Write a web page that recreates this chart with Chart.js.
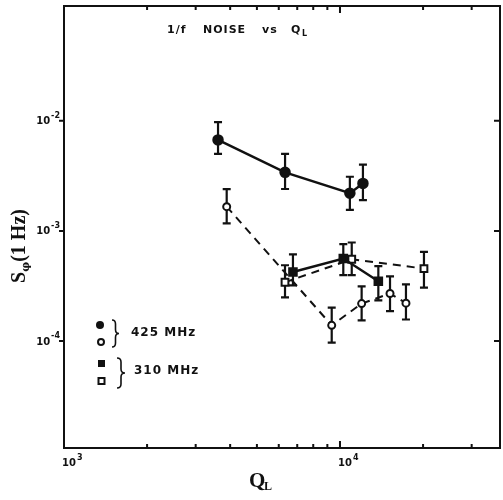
<!DOCTYPE html>
<html>
<head>
<meta charset="utf-8">
<script src="https://cdn.jsdelivr.net/npm/chart.js@4.4.1/dist/chart.umd.min.js"></script>
<style>
  html, body { margin: 0; padding: 0; background: #fff; }
  #wrap { width: 503px; height: 500px; }
</style>
</head>
<body>
<div id="wrap"><canvas id="noiseChart"></canvas></div>
<script>
// values: Q_L, S_phi(1 Hz), and error bar ends
const q425Filled = [3615, 6324, 10860, 12110];
const s425Filled = [6.7e-3, 3.4e-3, 2.2e-3, 2.7e-3];
const lo425Filled = [5.0e-3, 2.4e-3, 1.55e-3, 1.9e-3];
const hi425Filled = [9.7e-3, 5.0e-3, 3.1e-3, 4.0e-3];

const q425Open = [3886, 9333, 11980, 15180, 17340];
const s425Open = [1.66e-3, 1.39e-4, 2.19e-4, 2.7e-4, 2.21e-4];
const lo425Open = [1.17e-3, 9.7e-5, 1.54e-4, 1.87e-4, 1.57e-4];
const hi425Open = [2.39e-3, 2.01e-4, 3.14e-4, 3.87e-4, 3.27e-4];

const q310Filled = [6754, 10280, 13770];
const s310Filled = [4.24e-4, 5.61e-4, 3.49e-4];
const lo310Filled = [3.2e-4, 3.96e-4, 2.34e-4];
const hi310Filled = [6.13e-4, 7.58e-4, 4.78e-4];

const q310Open = [6321, 11030, 20150];
const s310Open = [3.42e-4, 5.53e-4, 4.55e-4];
const lo310Open = [2.49e-4, 3.96e-4, 3.05e-4];
const hi310Open = [4.88e-4, 7.85e-4, 6.44e-4];

// axis ticks
const xDecades = [1e3, 1e4];
const xDecadeExp = ['3', '4'];
const xMinor = [2e3, 3e3, 4e3, 5e3, 6e3, 7e3, 8e3, 9e3, 2e4, 3e4];
const yDecades = [1e-2, 1e-3, 1e-4];
const yDecadeExp = ['-2', '-3', '-4'];

function pts(q, s, lo, hi) {
  return q.map((x, i) => ({ x: x, y: s[i], yMin: lo[i], yMax: hi[i] }));
}

const ink = '#111';

// vertical error bars with caps
const errorBars = {
  id: 'errorBars',
  beforeDatasetsDraw(chart) {
    const { ctx, scales: { x, y } } = chart;
    ctx.save();
    ctx.strokeStyle = ink;
    ctx.lineWidth = 2.2;
    chart.data.datasets.forEach(ds => {
      ds.data.forEach(p => {
        const px = x.getPixelForValue(p.x);
        const top = y.getPixelForValue(p.yMax);
        const bot = y.getPixelForValue(p.yMin);
        ctx.beginPath();
        ctx.moveTo(px, top); ctx.lineTo(px, bot);
        ctx.moveTo(px - 4, top); ctx.lineTo(px + 4, top);
        ctx.moveTo(px - 4, bot); ctx.lineTo(px + 4, bot);
        ctx.stroke();
      });
    });
    ctx.restore();
  }
};

function brace(ctx, x, y1, y2, w) {
  const m = (y1 + y2) / 2, r = 4, h = x + w / 2;
  ctx.beginPath();
  ctx.moveTo(x, y1);
  ctx.quadraticCurveTo(h, y1, h, y1 + r);
  ctx.lineTo(h, m - r);
  ctx.quadraticCurveTo(h, m, x + w, m);
  ctx.quadraticCurveTo(h, m, h, m + r);
  ctx.lineTo(h, y2 - r);
  ctx.quadraticCurveTo(h, y2, x, y2);
  ctx.stroke();
}

// frame, ticks, labels, titles and the hand-drawn key
const frame = {
  id: 'frame',
  afterDraw(chart) {
    const { ctx, chartArea: a, scales: { x, y } } = chart;
    ctx.save();
    ctx.strokeStyle = ink;
    ctx.fillStyle = ink;
    ctx.lineWidth = 2;
    ctx.strokeRect(a.left, a.top, a.right - a.left, a.bottom - a.top);

    ctx.beginPath();
    xMinor.forEach(v => {
      const px = x.getPixelForValue(v);
      ctx.moveTo(px, a.bottom); ctx.lineTo(px, a.bottom - 4);
      ctx.moveTo(px, a.top); ctx.lineTo(px, a.top + 4);
    });
    xDecades.forEach(v => {
      const px = x.getPixelForValue(v);
      ctx.moveTo(px, a.bottom); ctx.lineTo(px, a.bottom - 7);
      ctx.moveTo(px, a.top); ctx.lineTo(px, a.top + 7);
    });
    yDecades.forEach(v => {
      const py = y.getPixelForValue(v);
      ctx.moveTo(a.left - 5, py); ctx.lineTo(a.left, py);
      ctx.moveTo(a.right - 6, py); ctx.lineTo(a.right, py);
    });
    ctx.stroke();

    // tick labels 10^n
    ctx.textBaseline = 'middle';
    yDecades.forEach((v, i) => {
      const py = y.getPixelForValue(v);
      ctx.font = 'bold 8px "DejaVu Sans"';
      const ew = ctx.measureText(yDecadeExp[i]).width;
      ctx.textAlign = 'right';
      ctx.fillText(yDecadeExp[i], a.left - 4, py - 5);
      ctx.font = 'bold 10px "DejaVu Sans"';
      ctx.fillText('10', a.left - 5 - ew, py + 1);
    });
    xDecades.forEach((v, i) => {
      const px = x.getPixelForValue(v);
      ctx.textAlign = 'left';
      ctx.font = 'bold 10px "DejaVu Sans"';
      ctx.fillText('10', px - 2, a.bottom + 15);
      const w = ctx.measureText('10').width;
      ctx.font = 'bold 8px "DejaVu Sans"';
      ctx.fillText(xDecadeExp[i], px - 1 + w, a.bottom + 10);
    });

    // chart title
    ctx.textBaseline = 'alphabetic';
    ctx.textAlign = 'left';
    ctx.font = 'bold 11px "DejaVu Sans"';
    ctx.letterSpacing = '1px';
    ctx.fillText('1/f', 167, 33);
    ctx.fillText('NOISE', 203, 33);
    ctx.fillText('vs', 262, 33);
    ctx.fillText('Q', 291, 33);
    ctx.font = 'bold 8px "DejaVu Sans"';
    ctx.fillText('L', 302, 36);
    ctx.letterSpacing = '0px';

    // y axis title
    ctx.save();
    ctx.translate(25, 246);
    ctx.rotate(-Math.PI / 2);
    ctx.font = 'bold 20px "Liberation Serif"';
    const sW = ctx.measureText('S').width;
    const restW = ctx.measureText('(1 Hz)').width;
    ctx.font = 'bold 11px "DejaVu Serif"';
    const phW = ctx.measureText('\u03c6').width;
    let tx = -(sW + phW + restW) / 2;
    ctx.font = 'bold 20px "Liberation Serif"';
    ctx.fillText('S', tx, 0);
    ctx.font = 'bold 11px "DejaVu Serif"';
    ctx.fillText('\u03c6', tx + sW, 4);
    ctx.font = 'bold 20px "Liberation Serif"';
    ctx.fillText('(1 Hz)', tx + sW + phW, 0);
    ctx.restore();

    // x axis title
    ctx.font = 'bold 21px "Liberation Serif"';
    ctx.fillText('Q', 249, 487);
    ctx.font = 'bold 12px "Liberation Serif"';
    ctx.fillText('L', 264, 490);

    // key
    ctx.beginPath();
    ctx.arc(100, 325, 4, 0, Math.PI * 2);
    ctx.fill();
    ctx.fillStyle = '#fff';
    ctx.beginPath();
    ctx.arc(101, 342, 3, 0, Math.PI * 2);
    ctx.fill();
    ctx.stroke();
    ctx.fillStyle = ink;
    ctx.fillRect(98, 360, 7, 7);
    ctx.strokeRect(98.5, 378, 6, 6);
    ctx.lineWidth = 1.6;
    brace(ctx, 112, 320, 347, 7);
    brace(ctx, 117, 358, 388, 8);
    ctx.textBaseline = 'middle';
    ctx.font = 'bold 12px "DejaVu Sans"';
    ctx.letterSpacing = '1px';
    ctx.fillText('425 MHz', 131, 333);
    ctx.fillText('310 MHz', 134, 371);
    ctx.restore();
  }
};

const solid = { borderColor: ink, borderWidth: 2.5, showLine: true };
const dashed = { borderColor: ink, borderWidth: 2, borderDash: [8, 6], showLine: true };

function fixBox(size) {
  return s => {
    if (s.isHorizontal()) s.height = size; else s.width = size;
    s.paddingLeft = 0; s.paddingRight = 0; s.paddingTop = 0; s.paddingBottom = 0;
  };
}

new Chart(document.getElementById('noiseChart'), {
  type: 'scatter',
  data: {
    datasets: [
      Object.assign({ label: '425 MHz filled', data: pts(q425Filled, s425Filled, lo425Filled, hi425Filled),
        pointStyle: 'circle', pointRadius: 4.5, pointBackgroundColor: ink, pointBorderColor: ink }, solid),
      Object.assign({ label: '425 MHz open', data: pts(q425Open, s425Open, lo425Open, hi425Open),
        pointStyle: 'circle', pointRadius: 3.5, pointBorderWidth: 2, pointBackgroundColor: '#fff', pointBorderColor: ink }, dashed),
      Object.assign({ label: '310 MHz filled', data: pts(q310Filled, s310Filled, lo310Filled, hi310Filled),
        pointStyle: 'rect', pointRadius: 5, pointBackgroundColor: ink, pointBorderColor: ink }, solid),
      Object.assign({ label: '310 MHz open', data: pts(q310Open, s310Open, lo310Open, hi310Open),
        pointStyle: 'rect', pointRadius: 4.8, pointBorderWidth: 2, pointBackgroundColor: '#fff', pointBorderColor: ink }, dashed)
    ]
  },
  options: {
    responsive: true,
    maintainAspectRatio: false,
    animation: false,
    layout: { autoPadding: false, padding: { top: 6, right: 3, left: 0, bottom: 0 } },
    plugins: { legend: { display: false }, tooltip: { enabled: false } },
    scales: {
      x: {
        type: 'logarithmic', min: 1000, max: 38000, bounds: 'data',
        ticks: { display: false }, grid: { display: false }, border: { display: false },
        afterFit: fixBox(52)
      },
      y: {
        type: 'logarithmic', min: 1.07e-5, max: 0.11, bounds: 'data',
        ticks: { display: false }, grid: { display: false }, border: { display: false },
        afterFit: fixBox(64)
      }
    }
  },
  plugins: [errorBars, frame]
});
</script>
</body>
</html>
